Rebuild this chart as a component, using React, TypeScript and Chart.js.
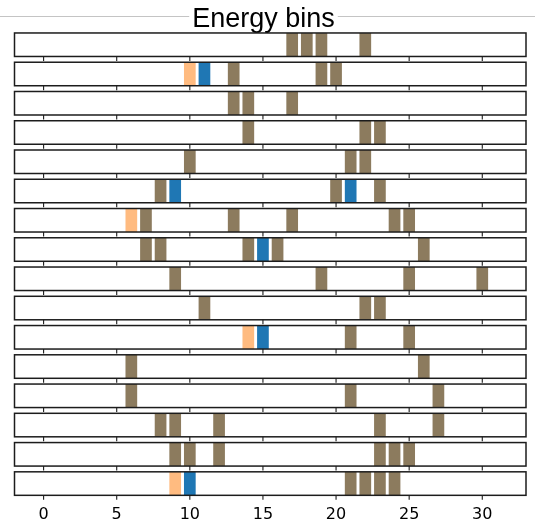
import React, { useEffect, useRef } from 'react';
import { Chart, registerables } from 'chart.js';

Chart.register(...registerables);

// ---- data ----
const TITLE = 'Energy bins';
const rowLabels: string[] = ['1', '2', '3', '4', '5', '6', '7', '8', '9', '10', '11', '12', '13', '14', '15', '16'];

const brownBins: number[][] = [
  [17, 18, 19, 22],
  [13, 19, 20],
  [13, 14, 17],
  [14, 22, 23],
  [10, 21, 22],
  [8, 20, 23],
  [7, 13, 17, 24, 25],
  [7, 8, 14, 16, 26],
  [9, 19, 25, 30],
  [11, 22, 23],
  [21, 25],
  [6, 26],
  [6, 21, 27],
  [8, 9, 12, 23, 27],
  [9, 10, 12, 23, 24, 25],
  [21, 22, 23, 24],
];

const orangeBins: number[][] = [
  [], [10], [], [], [], [], [6], [], [], [], [14], [], [], [], [], [9],
];

const blueBins: number[][] = [
  [], [11], [], [], [], [9, 21], [], [15], [], [], [15], [], [], [], [], [10],
];

const xTickValues: number[] = [0, 5, 10, 15, 20, 25, 30];
const X_MIN = -1.99;
const X_MAX = 32.99;

// ---- style ----
const BAR_HALF = 0.4;
const ROW_FRACTION = 0.8034;
const BROWN = '#8c7b5e';
const ORANGE = '#ffbb80';
const BLUE = '#1f77b4';

function toBars(bins: number[][]) {
  const out: { x: number[]; y: string }[] = [];
  bins.forEach((row, i) => {
    row.forEach((v) => out.push({ x: [v - BAR_HALF, v + BAR_HALF], y: rowLabels[i] }));
  });
  return out;
}

const framePlugin = {
  id: 'rowFrames',
  beforeDraw(chart: any) {
    const ctx = chart.ctx as CanvasRenderingContext2D;
    ctx.save();
    ctx.fillStyle = '#ffffff';
    ctx.fillRect(0, 0, chart.width, chart.height);
    ctx.strokeStyle = '#c4c4c4';
    ctx.lineWidth = 1;
    ctx.beginPath();
    ctx.moveTo(0, 16.5);
    ctx.lineTo(chart.width, 16.5);
    ctx.stroke();
    ctx.font = '27px "Liberation Sans"';
    const w = ctx.measureText(TITLE).width;
    const cx = 263.5;
    ctx.fillStyle = '#ffffff';
    ctx.fillRect(cx - w / 2 - 3, 3, w + 6, 27);
    ctx.fillStyle = '#000000';
    ctx.textAlign = 'center';
    ctx.textBaseline = 'alphabetic';
    ctx.fillText(TITLE, cx, 27.3);
    ctx.restore();
  },
  afterDatasetsDraw(chart: any) {
    const ctx = chart.ctx as CanvasRenderingContext2D;
    const xs = chart.scales.x;
    const ys = chart.scales.y;
    const band = ys.height / rowLabels.length;
    const h = band * ROW_FRACTION;
    ctx.save();
    ctx.strokeStyle = '#1c1c1c';
    for (let i = 0; i < rowLabels.length; i++) {
      const cy = ys.getPixelForValue(i);
      const top = cy - h / 2;
      ctx.lineWidth = 1.5;
      ctx.strokeRect(xs.left, top, xs.right - xs.left, h);
      ctx.lineWidth = 1.1;
      ctx.beginPath();
      for (const t of xs.ticks) {
        const px = xs.getPixelForValue(t.value);
        ctx.moveTo(px, top + h);
        ctx.lineTo(px, top + h + 4.5);
      }
      ctx.stroke();
    }
    ctx.restore();
  },
};

export default function App() {
  const ref = useRef<HTMLCanvasElement>(null);
  useEffect(() => {
    if (!ref.current) return;
    const chart = new Chart(ref.current, {
      type: 'bar',
      data: {
        labels: rowLabels,
        datasets: [
          { label: 'brown', data: toBars(brownBins) as any, backgroundColor: BROWN, borderWidth: 0 },
          { label: 'orange', data: toBars(orangeBins) as any, backgroundColor: ORANGE, borderWidth: 0 },
          { label: 'blue', data: toBars(blueBins) as any, backgroundColor: BLUE, borderWidth: 0 },
        ],
      },
      options: {
        responsive: false,
        animation: false,
        indexAxis: 'y',
        grouped: false,
        categoryPercentage: 1,
        barPercentage: ROW_FRACTION,
        layout: { padding: { top: 30.1, left: 14.5, right: 9, bottom: 0 } },
        plugins: {
          legend: { display: false },
          tooltip: { enabled: false },
          title: { display: false },
        },
        scales: {
          y: { type: 'category', display: false, offset: true },
          x: {
            type: 'linear',
            min: X_MIN,
            max: X_MAX,
            grid: { display: false, drawTicks: false },
            border: { display: false },
            afterBuildTicks: (scale: any) => {
              scale.ticks = xTickValues.map((v) => ({ value: v }));
            },
            ticks: {
              padding: 7.5,
              color: '#000000',
              font: { family: '"DejaVu Sans"', size: 16 },
              callback: (v: any) => String(v),
            },
            afterFit: (scale: any) => {
              scale.height = 28.8;
            },
          },
        },
      } as any,
      plugins: [framePlugin],
    });
    return () => chart.destroy();
  }, []);
  return (
    <div style={{ position: 'fixed', left: 0, top: 0, width: 535, height: 527 }}>
      <canvas ref={ref} width={535} height={527} style={{ display: 'block', width: 535, height: 527 }} />
    </div>
  );
}
